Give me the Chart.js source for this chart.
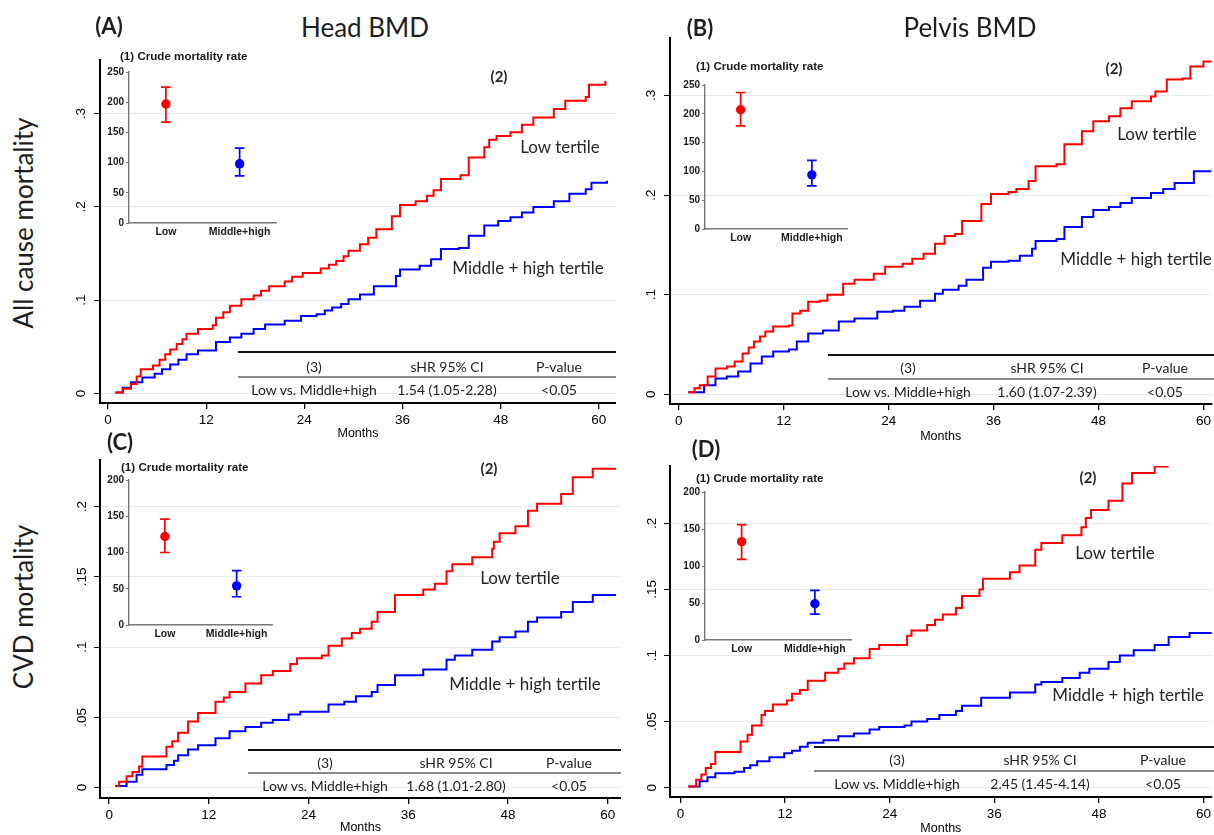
<!DOCTYPE html>
<html>
<head>
<meta charset="utf-8">
<script src="https://cdn.jsdelivr.net/npm/chart.js@4.4.0/dist/chart.umd.min.js"></script>
<style>
  body { margin: 0; background: #fff; }
  #page { position: relative; width: 1214px; height: 835px; overflow: hidden; font-family: Lato, 'Liberation Sans', sans-serif; color: #1e1e1e; }
  canvas { position: absolute; }
  .txt { position: absolute; white-space: nowrap; transform: translate(-50%, -50%); line-height: 1; }
  .rule { position: absolute; height: 0; }
</style>
</head>
<body>
<div id="page"></div>
<script>
// ---- data ----
const monthTicks = [0, 12, 24, 36, 48, 60];
const riskTicksAll = [0, 0.1, 0.2, 0.3];
const riskTicksCvd = [0, 0.05, 0.1, 0.15, 0.2];
const rateTicksAll = [0, 50, 100, 150, 200, 250];
const rateTicksCvd = [0, 50, 100, 150, 200];
const groups = ['Low', 'Middle+high'];

// cumulative incidence, [month, value] at each step
const headAllLow = [[0.9,0.001],[1.8,0.005],[2.8,0.01],[3.5,0.018],[4,0.026],[5.5,0.03],[6.3,0.036],[7,0.042],[7.6,0.047],[8.4,0.053],[9.1,0.058],[9.6,0.064],[11,0.069],[12.8,0.073],[13.2,0.081],[14.1,0.087],[14.9,0.094],[16.3,0.101],[17.8,0.105],[18.7,0.11],[19.7,0.115],[21.6,0.12],[22.5,0.125],[23.8,0.129],[26,0.134],[27,0.138],[27.9,0.142],[28.8,0.147],[29.4,0.153],[30.8,0.16],[31.8,0.167],[32.8,0.176],[34.7,0.19],[35.7,0.202],[37.6,0.206],[39,0.212],[39.8,0.218],[40.7,0.23],[43.1,0.234],[44.1,0.253],[46,0.264],[46.6,0.272],[47.5,0.276],[49.2,0.28],[50.6,0.288],[52,0.296],[54.5,0.305],[55.9,0.314],[58.4,0.318],[58.8,0.331],[60.8,0.335]];
const headAllMid = [[0.9,0.001],[1.8,0.006],[2.8,0.012],[4.2,0.017],[5.7,0.021],[6.6,0.026],[7.6,0.031],[8.6,0.036],[9.6,0.042],[11,0.046],[13.2,0.055],[14.9,0.06],[16.3,0.064],[17.8,0.069],[19.2,0.074],[21.6,0.078],[23.6,0.083],[25.5,0.085],[26.5,0.089],[27.4,0.092],[28.5,0.096],[29.4,0.101],[30.8,0.106],[32.5,0.115],[35.2,0.126],[35.7,0.133],[38.1,0.137],[39.5,0.144],[40.7,0.155],[42.9,0.156],[44.1,0.169],[46,0.18],[47.7,0.185],[49.2,0.189],[50.6,0.194],[52,0.2],[54.5,0.206],[56.4,0.214],[58.4,0.219],[59.1,0.226],[61,0.228]];
const pelvisAllLow = [[1.1,0.002],[1.8,0.006],[2.4,0.009],[3.3,0.018],[4.2,0.026],[5.5,0.028],[6.4,0.033],[7.3,0.041],[8,0.047],[8.6,0.053],[9.3,0.058],[9.9,0.063],[10.8,0.068],[12.6,0.069],[13,0.081],[13.9,0.084],[14.8,0.093],[16.1,0.094],[17,0.1],[18.8,0.111],[20.1,0.115],[22.3,0.121],[23.6,0.128],[25.6,0.131],[26.7,0.136],[28,0.141],[29.3,0.151],[30.4,0.159],[31.6,0.161],[32.4,0.174],[34.6,0.191],[35.7,0.201],[37.7,0.203],[38.6,0.206],[40,0.214],[40.8,0.229],[43.2,0.231],[44.1,0.251],[46.1,0.264],[47.4,0.274],[49.2,0.279],[50.5,0.287],[51.8,0.294],[54,0.299],[54.5,0.304],[55.8,0.316],[57.6,0.317],[58.5,0.329],[60,0.334],[61,0.336]];
const pelvisAllMid = [[1.1,0.002],[2.9,0.009],[4.2,0.016],[5.5,0.018],[6.8,0.023],[8.2,0.031],[9.5,0.038],[10.8,0.043],[12.6,0.045],[13.5,0.053],[14.8,0.061],[16.5,0.064],[18.3,0.073],[20.1,0.076],[22.7,0.083],[24.5,0.084],[25.8,0.088],[27.6,0.094],[29.3,0.101],[30.2,0.105],[32,0.109],[32.9,0.115],[34.8,0.127],[35.7,0.133],[37.7,0.134],[39,0.139],[40.4,0.146],[40.8,0.154],[43.2,0.156],[44.1,0.168],[46.1,0.178],[47.4,0.185],[49.2,0.188],[50.5,0.192],[51.8,0.197],[54,0.202],[55.4,0.206],[56.7,0.212],[58.9,0.224],[61,0.227]];
const headCvdLow = [[0.7,0.001],[1.2,0.004],[2.1,0.008],[2.8,0.011],[3.6,0.015],[4,0.022],[6.9,0.029],[7.6,0.033],[8.3,0.039],[9.5,0.047],[10.7,0.053],[12.8,0.061],[13.8,0.064],[14.5,0.068],[16.4,0.074],[18.3,0.08],[19.7,0.083],[21.8,0.088],[22.6,0.092],[25.6,0.094],[26.4,0.101],[28,0.106],[29.2,0.11],[30.2,0.113],[31.6,0.118],[32.3,0.125],[34.4,0.137],[37.8,0.141],[39.2,0.145],[40.6,0.154],[41.3,0.159],[43.7,0.164],[46.1,0.17],[46.3,0.175],[47,0.181],[48.9,0.186],[50.4,0.197],[51.5,0.202],[54.4,0.209],[55.8,0.221],[58.2,0.227],[61,0.227]];
const headCvdMid = [[0.7,0.001],[2.1,0.004],[3.3,0.009],[4,0.013],[6.9,0.016],[7.8,0.019],[8.3,0.023],[9.5,0.027],[10.7,0.03],[12.8,0.035],[14.5,0.04],[16.4,0.043],[18.3,0.046],[19.7,0.048],[21.6,0.052],[23,0.054],[26.4,0.059],[28.3,0.061],[29.7,0.065],[31.6,0.068],[32.3,0.073],[34.4,0.08],[37.8,0.084],[40.6,0.091],[41.6,0.094],[43.7,0.098],[46.1,0.104],[47,0.107],[48.9,0.111],[50.4,0.118],[51.5,0.121],[54.4,0.125],[55.8,0.132],[58.2,0.137],[61,0.137]];
const pelvisCvdLow = [[0.9,0.001],[1.8,0.006],[2.4,0.01],[2.9,0.015],[3.5,0.018],[4,0.027],[6.9,0.035],[7.7,0.04],[8.2,0.047],[9.3,0.055],[9.7,0.058],[10.6,0.063],[12.2,0.066],[12.8,0.071],[13.7,0.074],[14.6,0.081],[16.6,0.087],[18.1,0.09],[18.8,0.094],[19.9,0.098],[21.7,0.105],[22.8,0.108],[26,0.115],[26.5,0.119],[28.3,0.123],[29.2,0.127],[30.1,0.131],[31.6,0.136],[32.3,0.145],[34.3,0.15],[34.7,0.158],[37.8,0.163],[38.9,0.168],[40.7,0.18],[41.4,0.185],[43.8,0.191],[46,0.197],[46.5,0.204],[47.1,0.21],[49.1,0.217],[50.7,0.23],[51.8,0.238],[54.4,0.243],[56,0.243]];
const pelvisCvdMid = [[0.9,0.001],[2.2,0.005],[3.1,0.008],[4,0.011],[6.2,0.012],[7.3,0.015],[8,0.017],[8.8,0.02],[10.2,0.023],[11.9,0.026],[12.8,0.028],[13.7,0.031],[14.6,0.034],[16.4,0.036],[18.1,0.039],[19.9,0.041],[21.7,0.044],[22.8,0.046],[25.7,0.047],[26.5,0.05],[28.3,0.052],[29.7,0.055],[31.6,0.058],[32.3,0.062],[34.5,0.068],[37.8,0.072],[40.7,0.078],[41.4,0.08],[43.8,0.083],[45.8,0.087],[46.9,0.09],[49.1,0.095],[50.4,0.1],[52,0.104],[54.4,0.108],[56,0.114],[58.4,0.117],[61,0.117]];

// crude mortality rate (inset), per group: estimate, lower, upper
const rateHeadAll = [197, 98];    const loHeadAll = [167, 78];    const hiHeadAll = [225, 124];
const ratePelvisAll = [207, 94];  const loPelvisAll = [179, 75];  const hiPelvisAll = [237, 119];
const rateHeadCvd = [122, 54];    const loHeadCvd = [100, 39];    const hiHeadCvd = [146, 75];
const ratePelvisCvd = [133, 49];  const loPelvisCvd = [109, 35];  const hiPelvisCvd = [156, 67];

// table (3)
const tableHead = ['(3)', 'sHR 95% CI', 'P-value'];
const contrast = 'Low vs. Middle+high';
const shrText = ['1.54 (1.05-2.28)', '1.60 (1.07-2.39)', '1.68 (1.01-2.80)', '2.45 (1.45-4.14)'];
const pText = ['<0.05', '<0.05', '<0.05', '<0.05'];

// ---- drawing ----
const RED = '#ff0000', BLUE = '#0000ff';
const SANS = "'Liberation Sans', Arial, sans-serif";
const page = document.getElementById('page');

function dropZero(v) {
  return v === 0 ? '0' : String(v).replace(/^0\./, '.');
}

function text(str, x, y, css) {
  const d = document.createElement('div');
  d.className = 'txt';
  d.textContent = str;
  d.style.left = x + 'px';
  d.style.top = y + 'px';
  Object.assign(d.style, css || {});
  page.appendChild(d);
}

function rule(x1, x2, y, w, color) {
  const d = document.createElement('div');
  d.className = 'rule';
  d.style.left = x1 + 'px';
  d.style.width = (x2 - x1) + 'px';
  d.style.top = (y - w / 2) + 'px';
  d.style.borderTop = w + 'px solid ' + color;
  page.appendChild(d);
}

function canvasAt(left, top, w, h) {
  const cv = document.createElement('canvas');
  cv.width = w; cv.height = h;
  cv.style.left = left + 'px';
  cv.style.top = top + 'px';
  cv.style.width = w + 'px';
  cv.style.height = h + 'px';
  page.appendChild(cv);
  return cv;
}

function toXY(arr) {
  return arr.map(p => ({ x: p[0], y: p[1] }));
}

function mainPlot(p) {
  const yw = 60, padTop = 14;
  const L = p.area.left - yw, T = p.area.top - padTop;
  const W = p.area.right - L, H = p.area.bottom - T + p.xh;
  const cv = canvasAt(L, T, W, H);
  new Chart(cv, {
    type: 'line',
    data: {
      datasets: [
        { data: toXY(p.low), borderColor: RED, borderWidth: 2, pointRadius: 0, stepped: true, fill: false },
        { data: toXY(p.mid), borderColor: BLUE, borderWidth: 2, pointRadius: 0, stepped: true, fill: false }
      ]
    },
    options: {
      responsive: false,
      animation: false,
      devicePixelRatio: 1,
      layout: { padding: { top: padTop, right: 0, left: 0, bottom: 0 } },
      plugins: { legend: { display: false }, tooltip: { enabled: false } },
      scales: {
        x: {
          type: 'linear', min: p.xmin, max: p.xmax,
          afterBuildTicks: s => { s.ticks = monthTicks.map(v => ({ value: v })); },
          afterFit: s => { s.height = p.xh; },
          grid: { drawOnChartArea: false, tickLength: 6, tickColor: '#000', lineWidth: 1.3 },
          border: { color: '#000', width: 2 },
          ticks: { color: '#000', font: { family: SANS, size: 13.5 }, maxRotation: 0, padding: 3 },
          title: { display: true, text: 'Months', color: '#000', font: { family: SANS, size: 12.5 }, padding: { top: 0, bottom: 0 } }
        },
        y: {
          min: p.ymin, max: p.ymax,
          afterBuildTicks: s => { s.ticks = p.yTicks.map(v => ({ value: v })); },
          afterFit: s => { s.width = yw; },
          grid: { color: '#e2eeee', lineWidth: 1, tickColor: '#000', tickLength: 6 },
          border: { color: '#000', width: 2 },
          ticks: {
            color: '#000', font: { family: SANS, size: 13.5 },
            minRotation: 90, maxRotation: 90, crossAlign: 'center', padding: p.yPad,
            callback: v => dropZero(v)
          }
        }
      }
    }
  });
}

function insetPlot(p) {
  const L = p.area.left - 30, T = p.area.top - 8;
  const W = p.area.right - L + 4, H = p.area.bottom - T + 20;
  const cv = canvasAt(L, T, W, H);
  const colors = [RED, BLUE];
  const datasets = [];
  groups.forEach((g, i) => {
    datasets.push({
      data: [{ x: g, y: p.lo[i] }, { x: g, y: p.hi[i] }],
      borderColor: colors[i], borderWidth: 1.7, showLine: true,
      pointStyle: 'line', pointRadius: 4.8, pointBorderWidth: 1.7, pointBorderColor: colors[i]
    });
    datasets.push({
      data: [{ x: g, y: p.rate[i] }],
      showLine: false, pointStyle: 'circle', pointRadius: 4.7,
      pointBackgroundColor: colors[i], pointBorderColor: colors[i], pointBorderWidth: 0
    });
  });
  new Chart(cv, {
    type: 'line',
    data: { datasets },
    options: {
      responsive: false,
      animation: false,
      devicePixelRatio: 1,
      layout: { padding: { top: 8, right: 4, left: 0, bottom: 0 } },
      plugins: { legend: { display: false }, tooltip: { enabled: false } },
      scales: {
        x: {
          type: 'category', labels: groups, offset: true,
          afterFit: s => { s.height = 20; },
          grid: { display: false, drawTicks: false },
          border: { color: '#777', width: 1.4 },
          ticks: { color: '#1a1a1a', font: { family: SANS, size: 10.5, weight: 'bold' }, padding: 3, maxRotation: 0 }
        },
        y: {
          min: 0, max: p.yTicks[p.yTicks.length - 1],
          afterBuildTicks: s => { s.ticks = p.yTicks.map(v => ({ value: v })); },
          afterFit: s => { s.width = 30; },
          grid: { drawOnChartArea: false, tickLength: 3, tickColor: '#777' },
          border: { color: '#777', width: 1.4 },
          ticks: { color: '#1a1a1a', font: { family: SANS, size: 10, weight: 'bold' }, padding: 2 }
        }
      }
    }
  });
  text('(1) Crude mortality rate', p.titleX, p.titleY,
    { transform: 'translate(0,-50%)', fontFamily: SANS, fontWeight: 'bold', fontSize: '11.6px', color: '#1a1a1a' });
}

function resultTable(t, i) {
  rule(t.x1, t.x2, t.top, 2, '#111');
  rule(t.x1, t.x2, t.mid, 2, '#8a8a8a');
  const css = { fontSize: '14px', color: '#1e1e1e' };
  tableHead.forEach((h, k) => text(h, t.cols[k], t.headY, css));
  text(contrast, t.cols[0], t.rowY, css);
  text(shrText[i], t.cols[1], t.rowY, css);
  text(pText[i], t.cols[2], t.rowY, css);
}

// Panel A: head BMD, all cause
mainPlot({ area: { left: 100, right: 616, top: 58, bottom: 403 }, xh: 38,
  xmin: -0.98, xmax: 62.1, ymin: -0.0103, ymax: 0.358, yTicks: riskTicksAll, yPad: 7.5,
  low: headAllLow, mid: headAllMid });
// Panel B: pelvis BMD, all cause
mainPlot({ area: { left: 670, right: 1214, top: 36, bottom: 404 }, xh: 40,
  xmin: -1.0, xmax: 60.9, ymin: -0.0097, ymax: 0.358, yTicks: riskTicksAll, yPad: 7.5,
  low: pelvisAllLow, mid: pelvisAllMid });
// Panel C: head BMD, CVD
mainPlot({ area: { left: 100, right: 621, top: 460, bottom: 798 }, xh: 37,
  xmin: -1.1, xmax: 61.6, ymin: -0.0075, ymax: 0.2332, yTicks: riskTicksCvd, yPad: 2,
  low: headCvdLow, mid: headCvdMid });
// Panel D: pelvis BMD, CVD
mainPlot({ area: { left: 670, right: 1214, top: 466, bottom: 797 }, xh: 39,
  xmin: -1.2, xmax: 60.94, ymin: -0.007, ymax: 0.2433, yTicks: riskTicksCvd, yPad: 2,
  low: pelvisCvdLow, mid: pelvisCvdMid });

insetPlot({ area: { left: 129, right: 279, top: 72, bottom: 223 }, yTicks: rateTicksAll,
  rate: rateHeadAll, lo: loHeadAll, hi: hiHeadAll, titleX: 120, titleY: 56 });
insetPlot({ area: { left: 705, right: 850, top: 85, bottom: 229 }, yTicks: rateTicksAll,
  rate: ratePelvisAll, lo: loPelvisAll, hi: hiPelvisAll, titleX: 696, titleY: 66 });
insetPlot({ area: { left: 129, right: 275, top: 480, bottom: 625 }, yTicks: rateTicksCvd,
  rate: rateHeadCvd, lo: loHeadCvd, hi: hiHeadCvd, titleX: 121, titleY: 467 });
insetPlot({ area: { left: 705, right: 854, top: 492, bottom: 640 }, yTicks: rateTicksCvd,
  rate: ratePelvisCvd, lo: loPelvisCvd, hi: hiPelvisCvd, titleX: 696, titleY: 478 });

resultTable({ x1: 238, x2: 616, top: 352, mid: 377, headY: 367, rowY: 390, cols: [314, 447, 559] }, 0);
resultTable({ x1: 828, x2: 1214, top: 355, mid: 379, headY: 368, rowY: 392, cols: [908, 1047, 1165] }, 1);
resultTable({ x1: 248, x2: 621, top: 750, mid: 773, headY: 763, rowY: 786, cols: [325, 456, 569] }, 2);
resultTable({ x1: 814, x2: 1214, top: 747, mid: 771, headY: 760, rowY: 784, cols: [897, 1040, 1163] }, 3);

// titles, panel letters, row labels
text('Head BMD', 365, 27, { fontSize: '26px' });
text('Pelvis BMD', 970, 27, { fontSize: '26px' });
text('(A)', 109, 26, { fontSize: '22px', fontWeight: 'bold' });
text('(B)', 700, 28, { fontSize: '22px', fontWeight: 'bold' });
text('(C)', 120, 442, { fontSize: '22px', fontWeight: 'bold' });
text('(D)', 706, 449, { fontSize: '22px', fontWeight: 'bold' });
text('All cause mortality', 23, 223, { fontSize: '26px', transform: 'translate(-50%,-50%) rotate(-90deg)' });
text('CVD mortality', 23, 607, { fontSize: '26px', transform: 'translate(-50%,-50%) rotate(-90deg)' });

// curve annotations
const curveCss = { fontSize: '17px', color: '#262626' };
const markCss = { fontSize: '15px', fontWeight: 'bold', color: '#262626' };
text('(2)', 499, 76, markCss);
text('Low tertile', 560, 146, curveCss);
text('Middle + high tertile', 528, 267, curveCss);
text('(2)', 1114, 68, markCss);
text('Low tertile', 1157, 133, curveCss);
text('Middle + high tertile', 1136, 258, curveCss);
text('(2)', 489, 468, markCss);
text('Low tertile', 520, 577, curveCss);
text('Middle + high tertile', 525, 683, curveCss);
text('(2)', 1088, 477, markCss);
text('Low tertile', 1115, 552, curveCss);
text('Middle + high tertile', 1128, 694, curveCss);
</script>
</body>
</html>
